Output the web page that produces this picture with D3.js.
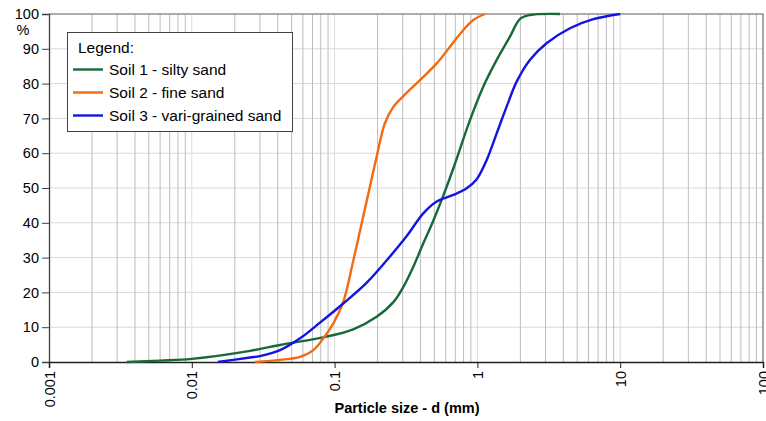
<!DOCTYPE html>
<html>
<head>
<meta charset="utf-8">
<script src="https://cdn.jsdelivr.net/npm/d3@7"></script>
<style>
  body { margin: 0; background: #fff; }
  svg { display: block; font-family: "Liberation Sans", Arial, sans-serif; }
</style>
</head>
<body>
<svg width="766" height="421"></svg>
<script>
// particle size (mm) / percent passing
const soil1 = [
  [0.0035, 0], [0.006, 0.4], [0.01, 0.9], [0.0256, 3.2], [0.0415, 4.9], [0.088, 7.3],
  [0.135, 9.4], [0.197, 13], [0.258, 17.2], [0.303, 21.6], [0.356, 27.4], [0.418, 34.1],
  [0.491, 40.6], [0.577, 47.8], [0.678, 55.6], [0.887, 69.5], [1.099, 79.1],
  [1.365, 86.8], [1.69, 93.5], [1.99, 98.6], [2.33, 99.7], [3.79, 100]
]
const soil2 = [
  [0.0277, 0], [0.0415, 0.6], [0.0573, 1.5], [0.071, 3.4], [0.0834, 6.8], [0.098, 11.1],
  [0.115, 17.3], [0.135, 29], [0.159, 42], [0.177, 50.5], [0.197, 59],
  [0.225, 68.6], [0.258, 73.3], [0.303, 76.4], [0.396, 81], [0.519, 85.8],
  [0.643, 90.6], [0.797, 95.4], [0.936, 98.3], [1.13, 100]
]
const soil3 = [
  [0.0152, 0], [0.0256, 1.3], [0.03, 1.7], [0.0415, 3.4], [0.0573, 6.8], [0.079, 11.3],
  [0.115, 16.8], [0.168, 22.8], [0.244, 30.3], [0.32, 36.2], [0.418, 42.7], [0.519, 46.1],
  [0.678, 48], [0.841, 49.9], [0.989, 52.5], [1.16, 58], [1.365, 65.7], [1.6, 73.3],
  [1.88, 80.5], [2.33, 86.8], [3.05, 91.6], [4.45, 95.9], [6.48, 98.5], [10, 100]
]
const seriesNames = ['Soil 1 - silty sand', 'Soil 2 - fine sand', 'Soil 3 - vari-grained sand']
const seriesColors = ['#17693a', '#f26b10', '#1414e0']
const xTickLabels = ['0.001', '0.01', '0.1', '1', '10', '100']
const yTicks = [0, 10, 20, 30, 40, 50, 60, 70, 80, 90, 100]

const svg = d3.select('svg')

const m = { left: 49, right: 763, top: 14, bottom: 362 }

const x = d3.scaleLog().domain([0.001, 100]).range([m.left, m.right])
const y = d3.scaleLinear().domain([0, 100]).range([m.bottom, m.top])

// minor and decade vertical grid
const minor = []
for (let e = -3; e < 2; e++) {
  for (let k = 2; k <= 9; k++) minor.push(k * Math.pow(10, e))
}
const decades = xTickLabels.map(Number)

svg.append('g')
  .selectAll('line')
  .data(yTicks.slice(1))
  .join('line')
    .attr('x1', m.left).attr('x2', m.right)
    .attr('y1', d => y(d)).attr('y2', d => y(d))
    .attr('stroke', '#d9d9d9')
    .attr('stroke-width', 1)

svg.append('g')
  .selectAll('line')
  .data(decades.slice(1, -1))
  .join('line')
    .attr('x1', d => x(d)).attr('x2', d => x(d))
    .attr('y1', m.top).attr('y2', m.bottom)
    .attr('stroke', '#dcdcdc')
    .attr('stroke-width', 1)

svg.append('g')
  .selectAll('line')
  .data(minor)
  .join('line')
    .attr('x1', d => x(d)).attr('x2', d => x(d))
    .attr('y1', m.top).attr('y2', m.bottom)
    .attr('stroke', '#bdbdbd')
    .attr('stroke-width', 1)

// frame
svg.append('path')
  .attr('d', `M${m.left},${m.top}H${m.right}V${m.bottom}`)
  .attr('fill', 'none')
  .attr('stroke', '#6e6e6e')
  .attr('stroke-width', 1.2)

// y axis
const yAxis = svg.append('g')
  .attr('transform', `translate(${m.left},0)`)
  .call(d3.axisLeft(y).tickValues(yTicks).tickSize(7).tickPadding(3))
yAxis.select('.domain').attr('stroke', '#404040').attr('stroke-width', 1.3)
yAxis.selectAll('.tick line').attr('stroke', '#404040')
yAxis.selectAll('.tick text')
  .attr('font-size', 14.5)
  .attr('font-family', '"Liberation Sans", Arial, sans-serif')
  .attr('fill', '#000')

svg.append('text')
  .attr('x', 23).attr('y', 35)
  .attr('text-anchor', 'middle')
  .attr('font-size', 14.5)
  .text('%')

// x axis
const xAxis = svg.append('g')
  .attr('transform', `translate(0,${m.bottom})`)
  .call(d3.axisBottom(x).tickValues(decades).tickFormat((d, i) => xTickLabels[i]).tickSize(6))
xAxis.select('.domain').attr('stroke', '#202020').attr('stroke-width', 1.5)
xAxis.selectAll('.tick line').attr('stroke', '#202020')
xAxis.selectAll('.tick text')
  .attr('font-size', 14.5)
  .attr('font-family', '"Liberation Sans", Arial, sans-serif')
  .attr('fill', '#000')
  .attr('transform', 'rotate(-90)')
  .attr('text-anchor', 'end')
  .attr('x', -9)
  .attr('y', 0)
  .attr('dy', '0.35em')

svg.append('text')
  .attr('x', 407).attr('y', 413)
  .attr('text-anchor', 'middle')
  .attr('font-size', 14.5)
  .attr('font-weight', 'bold')
  .text('Particle size - d (mm)')

// curves
const line = d3.line()
  .x(d => x(d[0]))
  .y(d => y(d[1]))
  .curve(d3.curveCatmullRom.alpha(0.5))

svg.append('g')
  .selectAll('path')
  .data([soil1, soil2, soil3])
  .join('path')
    .attr('d', line)
    .attr('fill', 'none')
    .attr('stroke', (d, i) => seriesColors[i])
    .attr('stroke-width', 2.4)

// legend
const legend = svg.append('g')
legend.append('rect')
  .attr('x', 67.5).attr('y', 32.5)
  .attr('width', 225).attr('height', 99)
  .attr('fill', '#fff')
  .attr('stroke', '#404040')
  .attr('stroke-width', 1)
legend.append('text')
  .attr('x', 78).attr('y', 53)
  .attr('font-size', 15.5)
  .text('Legend:')

const rows = legend.selectAll('g.row')
  .data(seriesNames)
  .join('g')
    .attr('class', 'row')
    .attr('transform', (d, i) => `translate(0,${69.5 + i * 23})`)
rows.append('line')
  .attr('x1', 73).attr('x2', 103)
  .attr('stroke', (d, i) => seriesColors[i])
  .attr('stroke-width', 2.4)
rows.append('text')
  .attr('x', 109).attr('y', 5.5)
  .attr('font-size', 15.5)
  .text(d => d)
</script>
</body>
</html>
